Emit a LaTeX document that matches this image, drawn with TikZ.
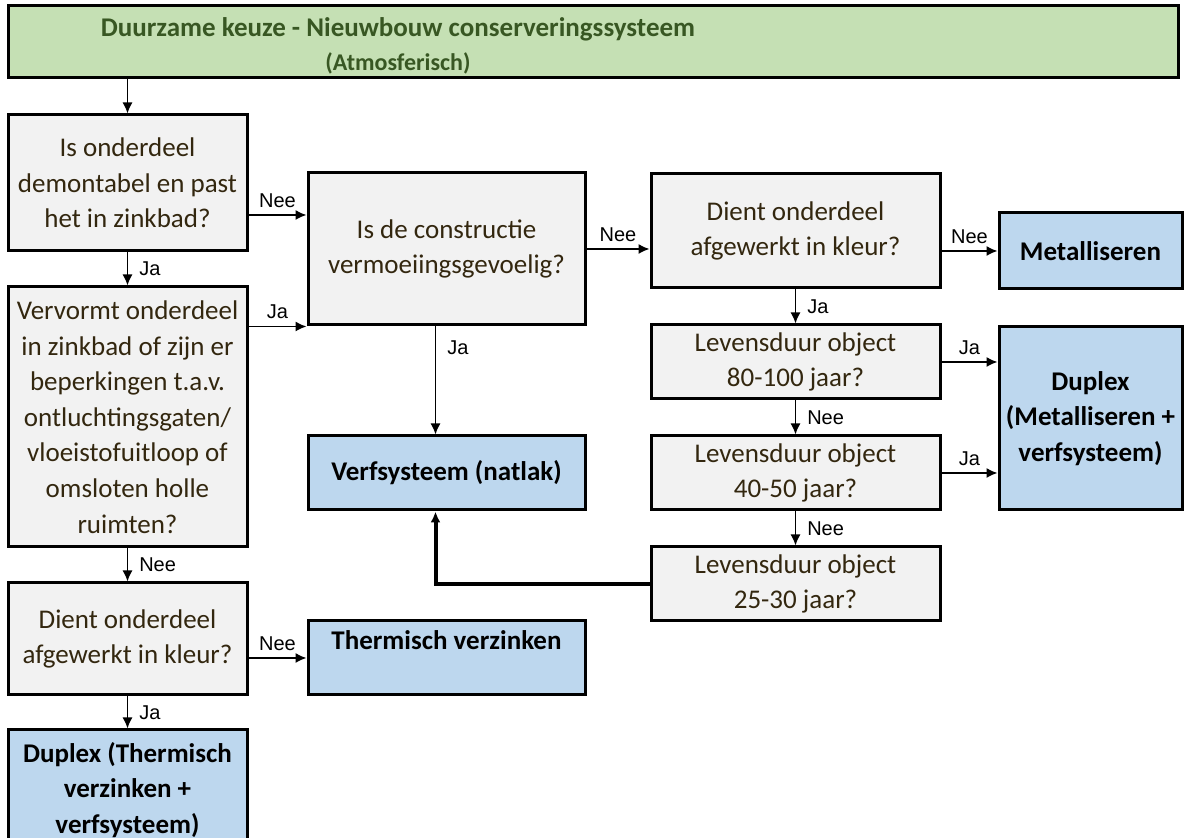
\documentclass[tikz,border=0pt]{standalone}
\usepackage{fontspec}
\setmainfont{Carlito}
\newfontfamily\labelfont{Liberation Sans}
\usetikzlibrary{arrows.meta}
\definecolor{boxgray}{HTML}{F2F2F2}
\definecolor{boxblue}{HTML}{BDD7EE}
\definecolor{boxgreen}{HTML}{C5E0B4}
\definecolor{titlegreen}{HTML}{385723}
\definecolor{qtext}{HTML}{33270F}
\tikzset{
  vraag/.style={draw, line width=1.5pt, fill=boxgray, text=qtext, align=center,
    inner sep=0pt, font=\fontsize{13.5}{17.8}\selectfont},
  uitkomst/.style={vraag, fill=boxblue, text=black,
    font=\fontsize{13.5}{17.8}\selectfont\bfseries},
  pijl/.style={-{Latex[length=5.5pt,width=5pt]}, line width=0.75pt},
  lbl/.style={font=\labelfont\fontsize{10}{11}\selectfont, inner sep=1.5pt},
  lblr/.style={lbl, right, xshift=4pt},
  lbla/.style={lbl, above, yshift=2pt}
}
\begin{document}
\begin{tikzpicture}[x=0.5pt,y=-0.5pt]
   \useasboundingbox (0,0) rectangle (1185,838);
   % kop
   \node[vraag, fill=boxgreen, minimum width=585pt, minimum height=36pt] (titel) at (593,42) {};
   \node[align=center, text=titlegreen, inner sep=0pt, font=\fontsize{13.5}{17}\selectfont\bfseries] (titeltekst) at (398,46)
      {Duurzame keuze - Nieuwbouw conserveringssysteem\\{\fontsize{12}{17}\selectfont(Atmosferisch)}};
   % linker kolom
   \node[vraag, minimum width=119.5pt, minimum height=68pt] (demontabel) at (127.5,183)
      {Is onderdeel\\demontabel en past\\het in zinkbad?};
   \node[vraag, minimum width=119.5pt, minimum height=130pt] (vervormt) at (127.5,417)
      {Vervormt onderdeel\\in zinkbad of zijn er\\beperkingen t.a.v.\\ontluchtingsgaten/\\vloeistofuitloop of\\omsloten holle\\ruimten?};
   \node[vraag, minimum width=119.5pt, minimum height=56pt] (kleurlinks) at (127.5,639)
      {Dient onderdeel\\afgewerkt in kleur?};
   \node[uitkomst, minimum width=119.5pt, minimum height=60pt] (duplextv) at (127.5,790)
      {Duplex (Thermisch\\verzinken +\\verfsysteem)};
   % midden
   \node[vraag, minimum width=138.5pt, minimum height=76pt] (vermoeiing) at (446.5,249)
      {Is de constructie\\vermoeiingsgevoelig?};
   \node[uitkomst, minimum width=138.5pt, minimum height=37pt] (verf) at (446.5,473)
      {Verfsysteem (natlak)};
   \node[uitkomst, minimum width=138.5pt, minimum height=37pt] (thermisch) at (446.5,658)
      {Thermisch verzinken\\\mbox{}};
   % rechter kolommen
   \node[vraag, minimum width=144.5pt, minimum height=57pt] (kleurrechts) at (795.5,231)
      {Dient onderdeel\\afgewerkt in kleur?};
   \node[vraag, minimum width=144.5pt, minimum height=37pt] (duur80) at (795.5,362)
      {Levensduur object\\80-100 jaar?};
   \node[vraag, minimum width=144.5pt, minimum height=37pt] (duur40) at (795.5,473)
      {Levensduur object\\40-50 jaar?};
   \node[vraag, minimum width=144.5pt, minimum height=37pt] (duur25) at (795.5,584)
      {Levensduur object\\25-30 jaar?};
   \node[uitkomst, minimum width=91.5pt, minimum height=38pt] (metal) at (1090.5,251)
      {Metalliseren};
   \node[uitkomst, minimum width=91.5pt, minimum height=91.5pt] (duplexm) at (1090.5,418.5)
      {Duplex\\(Metalliseren +\\verfsysteem)};
   % pijlen
   \draw[pijl] (titel.south -| demontabel.north) -- (demontabel.north);
   \draw[pijl] ([yshift=-16pt]demontabel.east) -- ([yshift=-16pt]demontabel.east -| vermoeiing.west) node[lbla, midway] {Nee};
   \draw[pijl] (demontabel.south) -- (vervormt.north) node[lblr, midway] {Ja};
   \draw[pijl] (vervormt.east |- vermoeiing.south west) -- (vermoeiing.south west) node[lbla, midway] {Ja};
   \draw[pijl] (vervormt.south) -- (kleurlinks.north) node[lblr, midway] {Nee};
   \draw[pijl] (kleurlinks.east |- thermisch.west) -- (thermisch.west) node[lbla, midway] {Nee};
   \draw[pijl] (kleurlinks.south) -- (duplextv.north) node[lblr, midway] {Ja};
   \draw[pijl] ([xshift=-5.5pt]vermoeiing.south) -- ([xshift=-5.5pt]verf.north) node[lblr, pos=0.2] {Ja};
   \draw[pijl] (vermoeiing.east) -- (vermoeiing.east -| kleurrechts.west) node[lbla, midway] {Nee};
   \draw[pijl] (kleurrechts.east |- metal.west) -- (metal.west) node[lbla, midway] {Nee};
   \draw[pijl] (kleurrechts.south) -- (duur80.north) node[lblr, midway] {Ja};
   \draw[pijl] (duur80.south) -- (duur40.north) node[lblr, midway] {Nee};
   \draw[pijl] (duur40.south) -- (duur25.north) node[lblr, midway] {Nee};
   \draw[pijl] (duur80.east) -- (duur80.east -| duplexm.west) node[lbla, midway] {Ja};
   \draw[pijl] (duur40.east) -- (duur40.east -| duplexm.west) node[lbla, midway] {Ja};
   \draw[pijl, line width=2pt] (duur25.west) -| ([xshift=-5.5pt]verf.south);
\end{tikzpicture}
\end{document}
